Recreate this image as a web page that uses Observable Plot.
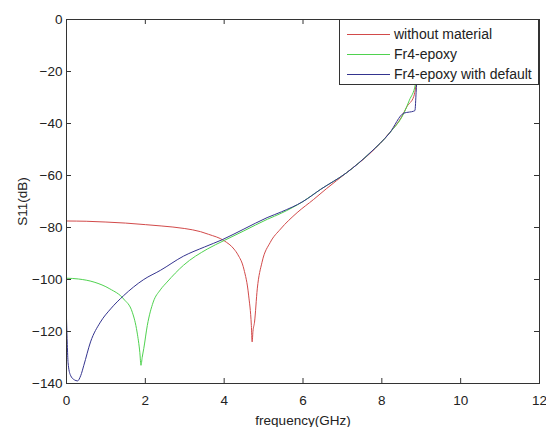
<!DOCTYPE html>
<html><head><meta charset="utf-8">
<script src="https://cdn.jsdelivr.net/npm/d3@7"></script>
<script src="https://cdn.jsdelivr.net/npm/@observablehq/plot@0.6"></script>
<style>
body{margin:0;background:#fff;}
#wrap{position:relative;width:546px;height:427px;font-family:Arial,"Liberation Sans",sans-serif;}
#legend{position:absolute;left:339px;top:19px;width:200px;height:66px;border:1px solid #333;background:#fff;box-sizing:border-box;padding-top:4px;}
.row{display:flex;align-items:center;height:20px;font-size:14px;color:#222;white-space:nowrap;}
.sw{width:43px;height:0;margin-left:7px;margin-right:4px;border-top:1px solid;}
</style></head>
<body>
<div id="wrap"><div id="chart"></div><div id="legend"></div></div>
<script>
// Series names and colours
const seriesNames = ["without material", "Fr4-epoxy", "Fr4-epoxy with default"];
const seriesColors = ["#d24a4a", "#4fd24f", "#34348f"];

// Tick values
const xTicks = [0, 2, 4, 6, 8, 10, 12];
const yTicks = [0, -20, -40, -60, -80, -100, -120, -140];

// Series 1: without material
const freqRed = [0, 0.5, 1.0, 1.5, 2.0, 2.4, 3.0, 3.4, 3.6, 4.0, 4.25, 4.35, 4.5, 4.62, 4.69, 4.71, 4.73, 4.77, 4.84, 4.96, 5.17, 5.43, 5.85, 6.27, 6.6, 7.1, 7.7, 8.2, 8.5, 8.64, 8.81, 8.86, 8.9];
const s11Red  = [-77.5, -77.6, -77.9, -78.3, -78.9, -79.4, -80.4, -81.6, -82.6, -85.1, -88.3, -90.5, -96, -106, -117.7, -124, -120, -116.4, -103.6, -93.4, -85.7, -80.6, -74.3, -69.2, -65, -59, -51.5, -43.5, -37.5, -33.4, -29.6, -25.8, -20];

// Series 2: Fr4-epoxy
const freqGreen = [0, 0.3, 0.7, 1.1, 1.45, 1.67, 1.79, 1.86, 1.89, 1.92, 1.96, 2.05, 2.2, 2.38, 2.55, 2.97, 3.57, 4.0, 4.5, 5.1, 5.45, 6.0, 6.45, 7.1, 7.7, 8.2, 8.56, 8.7, 8.85, 8.9];
const s11Green  = [-99.5, -99.8, -101, -103.6, -107.5, -112.6, -120.2, -128, -133, -130, -126.6, -117.7, -108.7, -104, -101, -94.5, -88.3, -85, -81.3, -76.8, -74.5, -70, -65.3, -59, -51.3, -43.6, -36, -31, -25, -20];

// Series 3: Fr4-epoxy with default
const freqBlue = [0, 0.02, 0.04, 0.1, 0.2, 0.28, 0.36, 0.44, 0.61, 0.86, 1.12, 1.45, 1.96, 2.38, 2.97, 3.5, 3.95, 4.5, 5.09, 5.45, 6.0, 6.45, 7.1, 7.7, 8.2, 8.56, 8.7, 8.8, 8.84, 8.87, 8.9];
const s11Blue  = [-115, -125, -132, -136.8, -138.6, -139, -137, -133, -124, -116.4, -111.3, -106.2, -100, -96.5, -91, -87.5, -84.7, -80.6, -76.2, -74, -70, -65.3, -59, -51.3, -43.6, -36, -35.6, -35.3, -35, -28, -20];

const toRows = (fs, vs) => fs.map((f, i) => ({f, db: vs[i]}));
const series = [toRows(freqRed, s11Red), toRows(freqGreen, s11Green), toRows(freqBlue, s11Blue)];

const W = 546, H = 427, mL = 66, mR = 7, mT = 19, mB = 44, TICK = 5;
const innerW = W - mL - mR, innerH = H - mT - mB;

const chart = Plot.plot({
  width: W, height: H,
  marginLeft: mL, marginRight: mR, marginTop: mT, marginBottom: mB,
  style: {fontSize: "13.5px", fontFamily: "Arial, 'Liberation Sans', sans-serif", color: "#222", background: "#fff"},
  x: {domain: [0, 12]},
  y: {domain: [-140, 0]},
  marks: [
    ...series.map((d, i) => Plot.line(d, {x: "f", y: "db", stroke: seriesColors[i], strokeWidth: 1, curve: "monotone-x"})),
    Plot.frame({stroke: "#333"}),
    // inward tick marks on all four sides (MATLAB style)
    Plot.tickX(xTicks, {x: d => d, stroke: "#333", insetTop: innerH - TICK}),
    Plot.tickX(xTicks, {x: d => d, stroke: "#333", insetBottom: innerH - TICK}),
    Plot.tickY(yTicks, {y: d => d, stroke: "#333", insetRight: innerW - TICK}),
    Plot.tickY(yTicks, {y: d => d, stroke: "#333", insetLeft: innerW - TICK}),
    Plot.axisX({anchor: "bottom", ticks: xTicks, tickSize: 0, tickPadding: 12, label: "frequency(GHz)", labelAnchor: "center", labelArrow: "none"}),
    Plot.axisY({anchor: "left", ticks: yTicks, tickSize: 0, tickPadding: 4, label: "S11(dB)", labelAnchor: "center", labelOffset: 49, labelArrow: "none"})
  ]
});
document.getElementById("chart").appendChild(chart);

const legend = document.getElementById("legend");
seriesNames.forEach((name, i) => {
  const row = document.createElement("div");
  row.className = "row";
  const sw = document.createElement("span");
  sw.className = "sw";
  sw.style.borderTopColor = seriesColors[i];
  const t = document.createElement("span");
  t.textContent = name;
  row.appendChild(sw); row.appendChild(t);
  legend.appendChild(row);
});
</script>
</body></html>
